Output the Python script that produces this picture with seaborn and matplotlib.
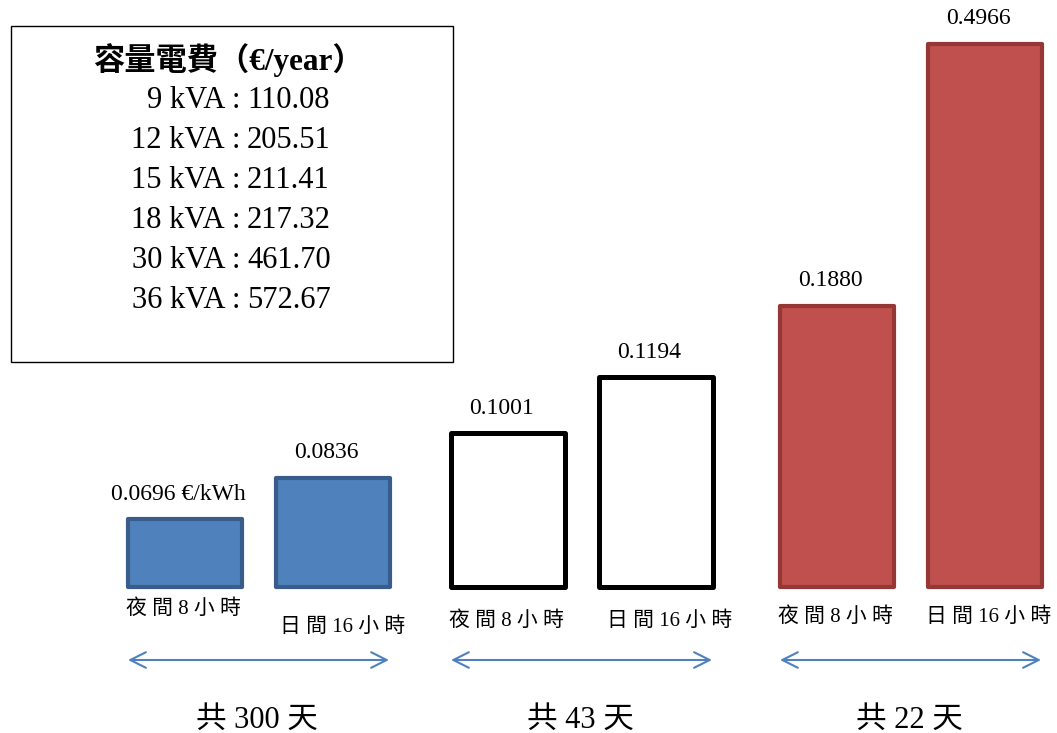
import pandas as pd
import matplotlib
matplotlib.use("Agg")
import matplotlib.pyplot as plt
import seaborn as sns
from matplotlib.patches import Rectangle

# data
periods = ["夜 間 8 小 時", "日 間 16 小 時"]
seasons = ["共 300 天", "共 43 天", "共 22 天"]
prices = [0.0696, 0.0836, 0.1001, 0.1194, 0.1880, 0.4966]
price_labels = ["0.0696 €/kWh", "0.0836", "0.1001", "0.1194", "0.1880", "0.4966"]
# heights of the bars as drawn in the source figure (not to scale with price)
drawn_heights = [68, 109, 154, 210, 281, 543]
kva = [9, 12, 15, 18, 30, 36]
capacity_fee = [110.08, 205.51, 211.41, 217.32, 461.70, 572.67]

# layout (figure pixels, y measured up from the bar baseline)
W, H, BASE = 1057, 733, 587
group_x = [259, 582, 911]
half_gap = 74
face = ["#4F81BD", "#4F81BD", "white", "white", "#C0504D", "#C0504D"]
edge = ["#385D8A", "#385D8A", "black", "black", "#953735", "#953735"]
edge_w = [3.0, 3.0, 3.6, 3.6, 3.0, 3.0]
label_y = [(-22, -40), (-34, -34), (-30, -30)]
day_dx = [10, 14, 4]

sns.set_theme(style="white")
plt.rcParams["font.family"] = ["Liberation Serif", "Noto Sans CJK TC"]
plt.rcParams["text.color"] = "black"
fonts = ["Liberation Serif", "Noto Sans CJK TC"]

xs = [g + s * half_gap for g in group_x for s in (-1, 1)]
df = pd.DataFrame({"x": xs, "h": drawn_heights, "label": price_labels})

fig = plt.figure(figsize=(W / 100, H / 100), dpi=100)
ax = fig.add_axes([0, 0, 1, 1])
sns.barplot(data=df, x="x", y="h", native_scale=True, width=0.77, ax=ax)
ax.set_xlim(0, W)
ax.set_ylim(BASE - H, BASE)
ax.axis("off")

for p, fc, ec, lw in zip(ax.patches, face, edge, edge_w):
    p.set_facecolor(fc)
    p.set_edgecolor(ec)
    p.set_linewidth(lw)
    p.set_joinstyle("round")

# value labels above bars
for x, h, lab in zip(xs, drawn_heights, price_labels):
    ax.text(x - 7, h + 25, lab, ha="center", va="center", fontsize=17,
            family=fonts, color="black")

# period labels, arrows, season totals
for i, gx in enumerate(group_x):
    left, right = xs[2 * i], xs[2 * i + 1]
    ax.text(left - 2, label_y[i][0], periods[0], ha="center", va="center",
            fontsize=15, family=fonts, color="black")
    ax.text(right + day_dx[i], label_y[i][1], periods[1], ha="center", va="center",
            fontsize=15, family=fonts, color="black")
    ax.annotate("", xy=(left - 57, -73), xytext=(right + 56, -73),
                arrowprops=dict(arrowstyle="<->", color="#4F81BD", lw=1.5,
                                mutation_scale=28, shrinkA=0, shrinkB=0))
    ax.text(gx - 2, -119, seasons[i], ha="center", va="top", fontsize=22,
            family=fonts, color="black")

# capacity fee box
ax.add_patch(Rectangle((11, BASE - 362), 442, 336, fill=False, edgecolor="black", lw=1.0))
ax.text(228, BASE - 60, "容量電費（€/year）", ha="center", va="center",
        fontsize=22.5, fontweight="bold", family=fonts, color="black")
for j, (k, fee) in enumerate(zip(kva, capacity_fee)):
    y = BASE - 100 - 40 * j
    ax.text(225, y, f"{k} kVA", ha="right", va="center", fontsize=22, family=fonts, color="black")
    ax.text(236, y, ":", ha="center", va="center", fontsize=22, family=fonts, color="black")
    ax.text(247, y, f"{fee:.2f}", ha="left", va="center", fontsize=22, family=fonts, color="black")

fig.savefig("out.png", dpi=100)
